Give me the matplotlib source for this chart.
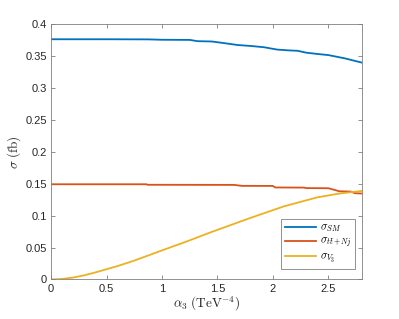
import numpy as np
import matplotlib
matplotlib.use('Agg')
import matplotlib.pyplot as plt
from matplotlib.ticker import FormatStrFormatter

plt.rcParams['font.family'] = ['Liberation Sans', 'DejaVu Sans']
plt.rcParams['mathtext.fontset'] = 'cm'

# sigma_SM
alpha_sm = [0, 0.5, 0.88, 1.0, 1.25, 1.32, 1.45, 1.6, 1.68, 1.8, 1.92, 2.0, 2.04, 2.15,
            2.22, 2.3, 2.4, 2.5, 2.55, 2.65, 2.8]
sigma_sm = [0.376, 0.376, 0.3758, 0.3752, 0.375, 0.373, 0.3725, 0.369, 0.367, 0.3655,
            0.3635, 0.361, 0.3598, 0.3585, 0.358, 0.355, 0.353, 0.3512, 0.3495, 0.346, 0.3395]

# sigma_ttbar+Nj
alpha_tt = [0, 0.86, 0.87, 1.65, 1.72, 2.0, 2.02, 2.28, 2.30, 2.50, 2.60, 2.70, 2.74, 2.80]
sigma_tt = [0.1490, 0.1490, 0.1482, 0.1480, 0.1465, 0.1464, 0.1440, 0.1438, 0.1430,
            0.1428, 0.1380, 0.1376, 0.1350, 0.1345]

# sigma_V3
alpha_v3 = [0, 0.1, 0.2, 0.3, 0.4, 0.5, 0.6, 0.75, 1.0, 1.2, 1.45, 1.8, 2.1, 2.4, 2.6, 2.8]
sigma_v3 = [0, 0.0008, 0.003, 0.0065, 0.011, 0.016, 0.021, 0.0295, 0.0455, 0.058, 0.0745,
            0.0965, 0.1145, 0.1285, 0.1345, 0.1385]

labels = [r'$\sigma_{SM}$', r'$\sigma_{t\bar{t}+Nj}$', r'$\sigma_{V_3}$']
colors = ['#0072BD', '#D95319', '#EDB120']

fig = plt.figure(figsize=(3.99, 3.19), dpi=100)
ax = fig.add_axes([0.128, 0.124, 0.7785, 0.801])

ax.plot(alpha_sm, sigma_sm, color=colors[0], lw=1.3, label=labels[0])
ax.plot(alpha_tt, sigma_tt, color=colors[1], lw=1.3, label=labels[1])
ax.plot(alpha_v3, sigma_v3, color=colors[2], lw=1.3, label=labels[2])

ax.set_xlim(0, 2.8)
ax.set_ylim(0, 0.4)
ax.set_xticks(np.arange(0, 2.6, 0.5))
ax.set_yticks(np.arange(0, 0.401, 0.05))
ax.xaxis.set_major_formatter(FormatStrFormatter('%g'))
ax.yaxis.set_major_formatter(FormatStrFormatter('%g'))

gray = '#262626'
for s in ax.spines.values():
    s.set_color('#808080')
    s.set_linewidth(0.6)
ax.tick_params(direction='in', top=True, right=True, length=3, width=0.6,
               color='#808080', labelcolor=gray, labelsize=8, pad=3)

ax.set_xlabel(r'$\alpha_3\ (\mathrm{TeV}^{-4})$', fontsize=9.5, color=gray, labelpad=1)
ax.set_ylabel(r'$\sigma\ (\mathrm{fb})$', fontsize=9.5, color=gray, labelpad=2)

leg = ax.legend(loc='lower right', fontsize=8, fancybox=False, framealpha=1,
                handlelength=2.8, handletextpad=0.4, borderpad=0.3, labelspacing=0.15,
                borderaxespad=0, bbox_to_anchor=(0.98, 0.042))
leg.get_frame().set_edgecolor('#808080')
leg.get_frame().set_linewidth(0.6)

fig.savefig('out.png', dpi=100)
